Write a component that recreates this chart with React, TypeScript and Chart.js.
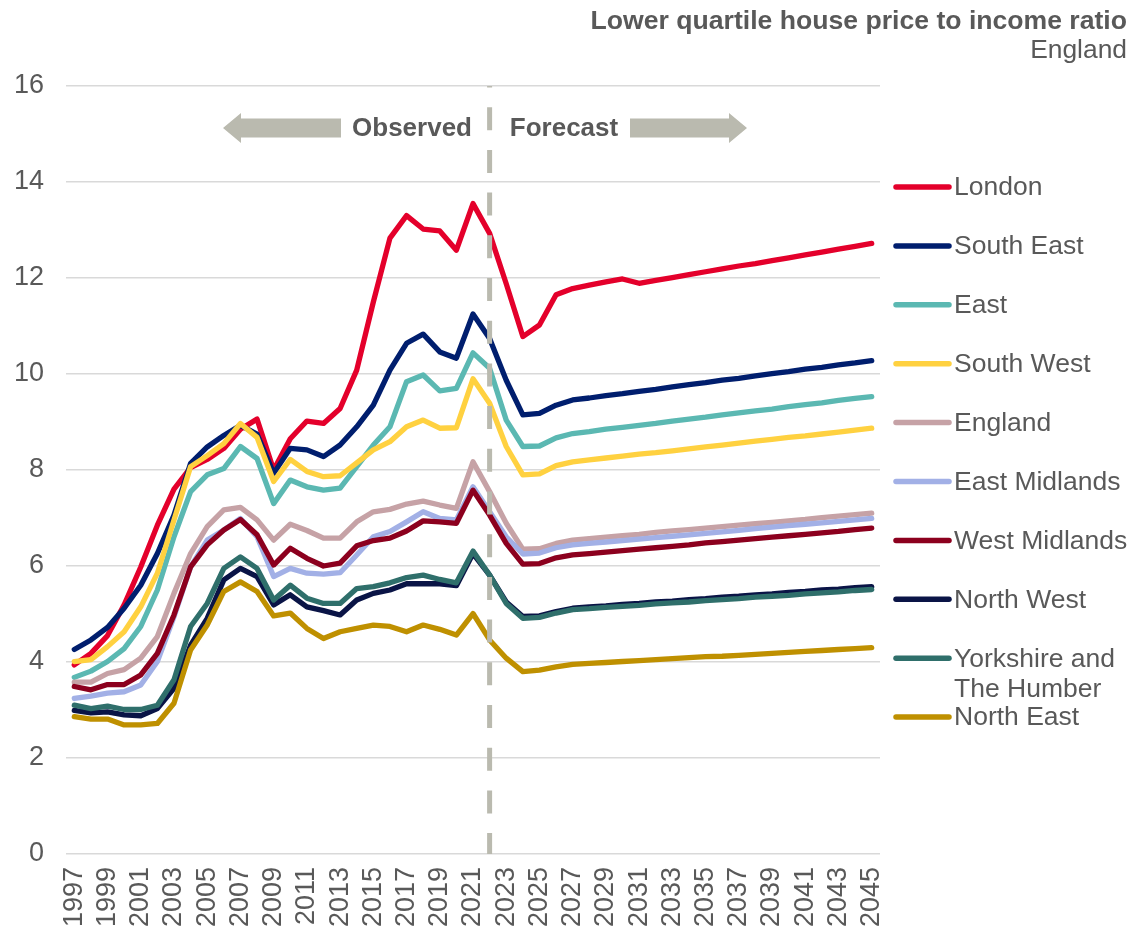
import React, { useEffect, useRef } from "react";
import { Chart, registerables } from "chart.js";

Chart.register(...registerables);

const years: string[] = [];
for (let y = 1997; y <= 2045; y++) years.push(String(y));

const london = [3.94, 4.18, 4.55, 5.19, 5.98, 6.85, 7.6, 8.05, 8.22, 8.45, 8.85, 9.06, 8.0, 8.65, 9.02, 8.97, 9.28, 10.08, 11.5, 12.83, 13.3, 13.02, 12.98, 12.58, 13.55, 12.93, 11.88, 10.78, 11.02, 11.65, 11.78, 11.85, 11.92, 11.98, 11.89, 11.95, 12.01, 12.07, 12.13, 12.19, 12.25, 12.3, 12.36, 12.42, 12.48, 12.54, 12.6, 12.66, 12.72];
const southEast = [4.26, 4.46, 4.72, 5.12, 5.6, 6.26, 7.06, 8.14, 8.48, 8.72, 8.93, 8.75, 7.93, 8.45, 8.42, 8.28, 8.52, 8.9, 9.35, 10.08, 10.64, 10.83, 10.46, 10.33, 11.25, 10.74, 9.87, 9.15, 9.18, 9.35, 9.46, 9.5, 9.55, 9.59, 9.64, 9.68, 9.73, 9.78, 9.82, 9.87, 9.91, 9.96, 10.01, 10.05, 10.1, 10.14, 10.19, 10.23, 10.28];
const east = [3.68, 3.81, 4.01, 4.28, 4.74, 5.5, 6.61, 7.55, 7.9, 8.03, 8.49, 8.24, 7.3, 7.79, 7.65, 7.58, 7.62, 8.07, 8.52, 8.9, 9.84, 9.98, 9.65, 9.7, 10.44, 10.12, 9.04, 8.49, 8.5, 8.67, 8.76, 8.8, 8.85, 8.89, 8.93, 8.97, 9.02, 9.06, 9.1, 9.15, 9.19, 9.23, 9.27, 9.32, 9.36, 9.4, 9.45, 9.49, 9.53];
const southWest = [4.01, 4.05, 4.32, 4.63, 5.15, 5.85, 6.96, 8.07, 8.3, 8.55, 8.97, 8.68, 7.76, 8.22, 7.97, 7.86, 7.88, 8.15, 8.42, 8.59, 8.9, 9.04, 8.87, 8.88, 9.9, 9.39, 8.49, 7.9, 7.92, 8.09, 8.17, 8.21, 8.25, 8.29, 8.33, 8.36, 8.4, 8.44, 8.48, 8.52, 8.56, 8.6, 8.64, 8.68, 8.71, 8.75, 8.79, 8.83, 8.87];
const england = [3.58, 3.58, 3.76, 3.84, 4.08, 4.53, 5.43, 6.26, 6.82, 7.17, 7.22, 6.96, 6.54, 6.87, 6.74, 6.58, 6.58, 6.92, 7.13, 7.18, 7.29, 7.35, 7.27, 7.2, 8.17, 7.55, 6.89, 6.35, 6.36, 6.47, 6.54, 6.57, 6.6, 6.63, 6.66, 6.7, 6.73, 6.76, 6.79, 6.82, 6.85, 6.88, 6.91, 6.94, 6.97, 7.01, 7.04, 7.07, 7.1];
const eastMidlands = [3.24, 3.29, 3.35, 3.38, 3.52, 4.01, 4.94, 5.98, 6.54, 6.75, 6.99, 6.61, 5.78, 5.95, 5.85, 5.83, 5.86, 6.23, 6.61, 6.72, 6.92, 7.13, 6.99, 6.96, 7.65, 7.13, 6.61, 6.25, 6.27, 6.38, 6.44, 6.47, 6.5, 6.53, 6.56, 6.59, 6.62, 6.65, 6.68, 6.71, 6.74, 6.78, 6.81, 6.84, 6.87, 6.9, 6.93, 6.96, 6.99];
const westMidlands = [3.49, 3.42, 3.53, 3.53, 3.73, 4.18, 4.98, 5.98, 6.44, 6.75, 6.97, 6.65, 6.02, 6.37, 6.16, 6.0, 6.06, 6.42, 6.53, 6.58, 6.73, 6.94, 6.92, 6.89, 7.58, 7.06, 6.47, 6.04, 6.05, 6.17, 6.23, 6.26, 6.29, 6.32, 6.35, 6.38, 6.41, 6.44, 6.48, 6.51, 6.54, 6.57, 6.6, 6.63, 6.66, 6.69, 6.72, 6.76, 6.79];
const northWest = [2.99, 2.94, 2.96, 2.9, 2.88, 3.03, 3.45, 4.35, 4.91, 5.71, 5.95, 5.78, 5.19, 5.4, 5.15, 5.07, 4.98, 5.29, 5.43, 5.5, 5.63, 5.63, 5.63, 5.59, 6.26, 5.81, 5.25, 4.95, 4.96, 5.05, 5.12, 5.15, 5.17, 5.2, 5.22, 5.25, 5.27, 5.3, 5.32, 5.35, 5.37, 5.4, 5.42, 5.45, 5.47, 5.5, 5.52, 5.55, 5.57];
const yorkshire = [3.1, 3.03, 3.08, 3.01, 3.01, 3.1, 3.63, 4.74, 5.22, 5.95, 6.19, 5.95, 5.29, 5.6, 5.33, 5.22, 5.22, 5.53, 5.57, 5.65, 5.76, 5.81, 5.72, 5.65, 6.31, 5.81, 5.22, 4.91, 4.93, 5.02, 5.09, 5.11, 5.14, 5.16, 5.18, 5.21, 5.23, 5.25, 5.28, 5.3, 5.32, 5.35, 5.37, 5.39, 5.42, 5.44, 5.46, 5.49, 5.51];
const northEast = [2.86, 2.81, 2.81, 2.69, 2.69, 2.72, 3.14, 4.25, 4.77, 5.47, 5.67, 5.47, 4.96, 5.02, 4.7, 4.49, 4.63, 4.7, 4.77, 4.74, 4.63, 4.77, 4.68, 4.56, 5.01, 4.46, 4.08, 3.8, 3.83, 3.9, 3.95, 3.97, 3.99, 4.01, 4.03, 4.05, 4.07, 4.09, 4.11, 4.12, 4.14, 4.16, 4.18, 4.2, 4.22, 4.24, 4.26, 4.28, 4.3];

const seriesNames = ["London", "South East", "East", "South West", "England", "East Midlands", "West Midlands", "North West", "Yorkshire and\nThe Humber", "North East"];
const seriesData = [london, southEast, east, southWest, england, eastMidlands, westMidlands, northWest, yorkshire, northEast];
const seriesColors = ["#E4002B", "#001E6E", "#5BB8B2", "#FFD140", "#C6A2A6", "#A2B0E6", "#8C001E", "#0A1446", "#2F6F6B", "#BF9000"];

const forecastStart = "2022";
const titleText = "Lower quartile house price to income ratio";
const subtitleText = "England";

const TEXT = "#595959";
const ARROW = "#BABAAF";
const FONT = "'Liberation Sans', Arial, sans-serif";

const overlayPlugin = {
  id: "overlay",
  afterDatasetsDraw(chart: any) {
    const ctx = chart.ctx;
    const xs = chart.scales.x;
    const area = chart.chartArea;
    const xf = xs.getPixelForValue(years.indexOf(forecastStart));
    ctx.save();
    ctx.strokeStyle = ARROW;
    ctx.lineWidth = 5;
    ctx.setLineDash([23, 19.7]);
    ctx.lineDashOffset = 21.5;
    ctx.beginPath();
    ctx.moveTo(xf, area.top);
    ctx.lineTo(xf, area.bottom);
    ctx.stroke();
    ctx.restore();
  },
  afterDraw(chart: any) {
    const ctx = chart.ctx;
    ctx.save();
    ctx.fillStyle = TEXT;
    ctx.textAlign = "right";
    ctx.textBaseline = "middle";
    ctx.font = `bold 26.6px ${FONT}`;
    ctx.fillText(titleText, 1127, 22);
    ctx.font = `26.4px ${FONT}`;
    ctx.fillText(subtitleText, 1127, 51);

    const ay = 128;
    ctx.fillStyle = ARROW;
    ctx.beginPath();
    ctx.moveTo(223, ay);
    ctx.lineTo(241, ay - 15);
    ctx.lineTo(241, ay - 9.5);
    ctx.lineTo(341, ay - 9.5);
    ctx.lineTo(341, ay + 9.5);
    ctx.lineTo(241, ay + 9.5);
    ctx.lineTo(241, ay + 15);
    ctx.closePath();
    ctx.fill();
    ctx.beginPath();
    ctx.moveTo(747, ay);
    ctx.lineTo(729, ay - 15);
    ctx.lineTo(729, ay - 9.5);
    ctx.lineTo(630, ay - 9.5);
    ctx.lineTo(630, ay + 9.5);
    ctx.lineTo(729, ay + 9.5);
    ctx.lineTo(729, ay + 15);
    ctx.closePath();
    ctx.fill();
    ctx.fillStyle = TEXT;
    ctx.font = `bold 26px ${FONT}`;
    ctx.textAlign = "center";
    ctx.fillText("Observed", 412, ay + 1);
    ctx.fillText("Forecast", 564, ay + 1);

    ctx.textAlign = "left";
    ctx.font = `26.5px ${FONT}`;
    let y = 187;
    for (let i = 0; i < seriesNames.length; i++) {
      ctx.strokeStyle = seriesColors[i];
      ctx.lineWidth = 5.5;
      ctx.lineCap = "round";
      ctx.beginPath();
      ctx.moveTo(896, y);
      ctx.lineTo(949, y);
      ctx.stroke();
      ctx.fillStyle = TEXT;
      const lines = seriesNames[i].split("\n");
      lines.forEach((l, j) => ctx.fillText(l, 954, y + 1 + j * 30));
      y += 58.9;
    }
    ctx.restore();
  },
};

export default function App() {
  const ref = useRef<HTMLCanvasElement | null>(null);
  useEffect(() => {
    document.body.style.margin = "0";
    const canvas = ref.current!;
    const chart = new Chart(canvas, {
      type: "line",
      data: {
        labels: years,
        datasets: seriesData.map((d, i) => ({
          label: seriesNames[i],
          data: d,
          borderColor: seriesColors[i],
          backgroundColor: seriesColors[i],
          borderWidth: 5.3,
          pointRadius: 0,
          tension: 0,
          borderJoinStyle: "round" as const,
          borderCapStyle: "round" as const,
          order: seriesNames.length - i,
        })),
      },
      options: {
        responsive: false,
        animation: false,
        events: [],
        layout: { padding: { top: 86, right: 265, left: 0, bottom: 0 } },
        plugins: {
          legend: { display: false },
          title: { display: false },
          tooltip: { enabled: false },
        },
        scales: {
          x: {
            type: "category",
            offset: true,
            grid: { display: false, drawTicks: false },
            border: { display: false },
            ticks: {
              autoSkip: false,
              minRotation: 90,
              maxRotation: 90,
              padding: 13,
              color: TEXT,
              font: { family: FONT, size: 27 },
              callback: (_v: any, i: number) => (i % 2 === 0 ? years[i] : ""),
            },
            afterFit: (s: any) => {
              s.height = 74;
            },
          },
          y: {
            min: 0,
            max: 16,
            grid: { color: "#D9D9D9", lineWidth: 1.5, drawTicks: false },
            border: { display: false },
            ticks: {
              stepSize: 2,
              padding: 22,
              color: TEXT,
              font: { family: FONT, size: 27 },
            },
            afterFit: (s: any) => {
              s.width = 66;
            },
          },
        },
      },
      plugins: [overlayPlugin],
    });
    return () => chart.destroy();
  }, []);
  return (
    <canvas
      ref={ref}
      width={1145}
      height={928}
      style={{ display: "block", width: 1145, height: 928 }}
    />
  );
}
